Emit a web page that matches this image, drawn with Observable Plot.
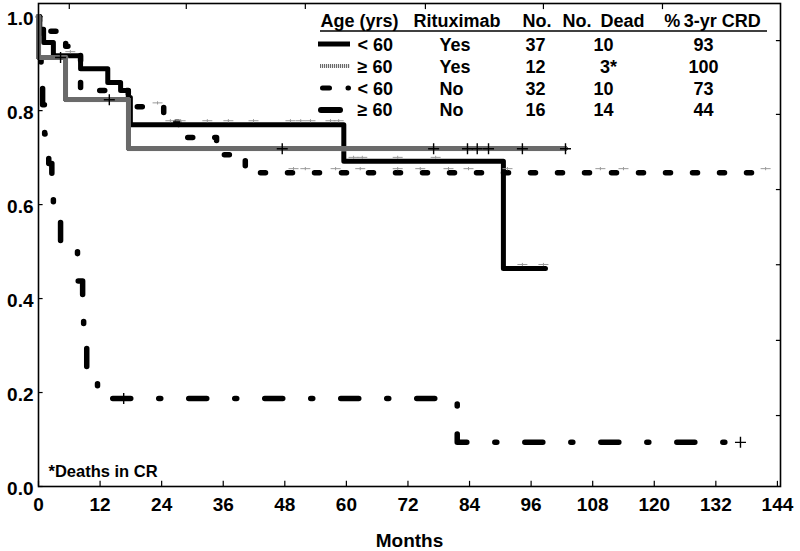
<!DOCTYPE html>
<html><head><meta charset="utf-8">
<script src="https://cdn.jsdelivr.net/npm/d3@7"></script>
<script src="https://cdn.jsdelivr.net/npm/@observablehq/plot@0.6"></script>
<style>
html,body{margin:0;padding:0;background:#fff;}
#chart svg{display:block;}
</style></head><body><div id="chart"></div>
<script>
// ---- Data (months, survival) ----
const months1 = [0, 0.2, 1.0, 2.9, 8.2, 13.5, 16.0, 17.5, 17.9, 59.5, 90.6, 98.8];
const surv1   = [1.0, 0.973, 0.945, 0.917, 0.889, 0.860, 0.843, 0.828, 0.770, 0.692, 0.464, 0.464];
const censor1Months = [6.2, 25.7, 27.7, 32.9, 37.0, 41.9, 49.1, 51.1, 53.0, 56.9, 58.5, 61.4, 63.1, 70.0, 77.4, 94.3, 98.4];
const censor1Surv   = [0.917, 0.770, 0.770, 0.770, 0.770, 0.770, 0.770, 0.770, 0.770, 0.770, 0.770, 0.692, 0.692, 0.692, 0.692, 0.464, 0.464];

const months2 = [0, 0.05, 5.3, 17.5, 102.7];
const surv2   = [1.0, 0.913, 0.823, 0.719, 0.719];
const censor2Months = [4.3, 13.8, 47.5, 77.0, 83.6, 85.5, 87.7, 94.3, 102.7];
const censor2Surv   = [0.913, 0.823, 0.719, 0.719, 0.719, 0.719, 0.719, 0.719, 0.719];

const months3 = [0, 0.2, 5.3, 8.2, 17.5, 24.4, 27.3, 34.7, 40.3, 141.7];
const surv3   = [1.0, 0.969, 0.937, 0.843, 0.808, 0.775, 0.743, 0.706, 0.668, 0.668];
const censor3Months = [23.2, 49.7, 52.0, 57.9, 62.7, 70.0, 74.4, 79.9, 83.8, 91.4, 109.5, 114.0, 141.7];
const censor3Surv   = [0.808, 0.668, 0.668, 0.668, 0.668, 0.668, 0.668, 0.668, 0.668, 0.668, 0.668, 0.668, 0.668];

const months4 = [0, 0.2, 0.5, 0.8, 1.2, 2.0, 2.6, 2.9, 4.3, 7.6, 8.6, 8.8, 9.4, 11.5, 81.6, 136.8];
const surv4   = [1.0, 0.9375, 0.875, 0.8125, 0.75, 0.6875, 0.625, 0.5625, 0.5, 0.4375, 0.375, 0.3125, 0.25, 0.1875, 0.094, 0.094];
const censor4Months = [16.6, 136.8];
const censor4Surv   = [0.1875, 0.094];

// ---- Axis ticks ----
const xTicks = [0, 12, 24, 36, 48, 60, 72, 84, 96, 108, 120, 132, 144];
const yTicks = [0, 0.2, 0.4, 0.6, 0.8, 1.0];
const topTickMonths = [6.0, 28.8, 52.0, 75.4, 98.4, 121.6];
const rightTickValues = [0.949, 0.792, 0.632, 0.472, 0.311, 0.151];

// ---- Legend table ----
const headerLabels = ["Age (yrs)", "Rituximab", "No.", "No.\u2002Dead", "%\u20093-yr CRD"];
const legendAge   = ["< 60", "\u2265 60", "< 60", "\u2265 60"];
const legendRitux = ["Yes", "Yes", "No", "No"];
const legendN     = ["37", "12", "32", "16"];
const legendDead  = ["10", "3*", "10", "14"];
const legendCRD   = ["93", "100", "73", "44"];
const footnote = "*Deaths in CR";
const xLabel = "Months";

const X_MAX = 144.6, Y_MAX = 1.028;
const ML = 38, MT = 3;

const pts = (m, s) => m.map((v, i) => ({m: v, s: s[i]}));
const plusSym  = {draw(ctx){ ctx.moveTo(-5.5,0); ctx.lineTo(5.5,0); ctx.moveTo(0,-5.5); ctx.lineTo(0,5.5); }};
const smallSym = {draw(ctx){ ctx.moveTo(-5,0); ctx.lineTo(5,0); ctx.moveTo(0,-1.6); ctx.lineTo(0,1.6); }};

function txt(text, x, y, opts = {}) {
  return Plot.text([text], {frameAnchor: "top-left", dx: x - ML, dy: y - MT, text: d => d,
    fontSize: 18, fontWeight: "bold", textAnchor: "start", lineAnchor: "middle", fill: "#000", ...opts});
}

const legendMarks = [];
const hdrX = [320, 413, 522, 562, 712];
headerLabels.forEach((h, i) => legendMarks.push(txt(h, hdrX[i], 21, i === 4 ? {textAnchor: "middle"} : {})));
const rowY = [45, 67, 88.5, 110];
rowY.forEach((y, i) => {
  legendMarks.push(txt(legendAge[i], 357, y));
  legendMarks.push(txt(legendRitux[i], 439, y));
  legendMarks.push(txt(legendN[i], 535, y, {textAnchor: "middle"}));
  legendMarks.push(txt(legendDead[i], legendDead[i].includes("*") ? 608 : 603, y, {textAnchor: "middle"}));
  legendMarks.push(txt(legendCRD[i], 703, y, {textAnchor: "middle"}));
});

function legendDecor() {
  const g = d3.create("svg:g");
  g.append("line").attr("x1", 320).attr("x2", 767).attr("y1", 31).attr("y2", 31)
    .attr("stroke", "#000").attr("stroke-width", 1.6);
  g.append("line").attr("x1", 318).attr("x2", 350).attr("y1", 44).attr("y2", 44)
    .attr("stroke", "#000").attr("stroke-width", 5);
  g.append("line").attr("x1", 320).attr("x2", 350).attr("y1", 66).attr("y2", 66)
    .attr("stroke", "#e2e2e2").attr("stroke-width", 3.5);
  g.append("line").attr("x1", 320).attr("x2", 350).attr("y1", 66).attr("y2", 66)
    .attr("stroke", "#6a6a6a").attr("stroke-width", 3.5).attr("stroke-dasharray", "1,1")
    .attr("shape-rendering", "crispEdges");
  g.append("line").attr("x1", 322.5).attr("x2", 348.5).attr("y1", 88).attr("y2", 88)
    .attr("stroke", "#000").attr("stroke-width", 5).attr("stroke-linecap", "round")
    .attr("stroke-dasharray", "7,18.5,0.5,40");
  g.append("line").attr("x1", 321).attr("x2", 340).attr("y1", 110).attr("y2", 110)
    .attr("stroke", "#000").attr("stroke-width", 6).attr("stroke-linecap", "round");
  return g.node();
}

const chart = Plot.plot({
  width: 800, height: 551,
  marginLeft: ML, marginRight: 20, marginTop: MT, marginBottom: 65,
  style: {fontFamily: "'Liberation Sans', Arial, sans-serif", fontWeight: "bold", fontSize: "19px", color: "#000", background: "#fff"},
  x: {domain: [0, X_MAX]},
  y: {domain: [0, Y_MAX]},
  marks: [
    // inward ticks
    Plot.ruleX(xTicks, {x: d => d, y1: 0, y2: 0.011, stroke: "#000", strokeWidth: 1.2}),
    Plot.ruleY(yTicks, {y: d => d, x1: 0, x2: 0.9, stroke: "#000", strokeWidth: 1.2}),
    Plot.ruleX(topTickMonths, {x: d => d, y1: Y_MAX, y2: Y_MAX - 0.013, stroke: "#000", strokeWidth: 1.2}),
    Plot.ruleY(rightTickValues, {y: d => d, x1: X_MAX - 0.8, x2: X_MAX, stroke: "#000", strokeWidth: 1.2}),
    Plot.axisX({ticks: xTicks, tickSize: 0, tickPadding: 11, label: null, fontSize: 19, fontWeight: "bold"}),
    Plot.axisY({ticks: yTicks, tickSize: 0, tickPadding: 5, tickFormat: d3.format(".1f"), label: null, fontSize: 19, fontWeight: "bold", dy: 2}),
    // series 4: >=60, no rituximab (long-short dashes)
    Plot.line(pts(months4, surv4), {x: "m", y: "s", curve: "step-after", stroke: "#000", strokeWidth: 5.5,
      strokeDasharray: "18,28,2,28", strokeLinecap: "round"}),
    // series 3: <60, no rituximab (short dashes)
    Plot.line(pts(months3, surv3), {x: "m", y: "s", curve: "step-after", stroke: "#000", strokeWidth: 5.5,
      strokeDasharray: "5,22", strokeLinecap: "round"}),
    // series 1: <60, rituximab (solid)
    Plot.line(pts(months1, surv1), {x: "m", y: "s", curve: "step-after", stroke: "#000", strokeWidth: 5}),
    // series 2: >=60, rituximab (gray hatched)
    Plot.line(pts(months2, surv2), {x: "m", y: "s", curve: "step-after", stroke: "#e2e2e2", strokeWidth: 5}),
    Plot.line(pts(months2, surv2), {x: "m", y: "s", curve: "step-after", stroke: "#6a6a6a", strokeWidth: 5,
      strokeDasharray: "1,1", shapeRendering: "crispEdges"}),
    // censor marks
    Plot.dot(pts(censor1Months, censor1Surv), {x: "m", y: "s", symbol: smallSym, r: 3, fill: "none", stroke: "#9a9a9a", strokeWidth: 1, dy: -4}),
    Plot.dot(pts(censor3Months, censor3Surv), {x: "m", y: "s", symbol: smallSym, r: 3, fill: "none", stroke: "#9a9a9a", strokeWidth: 1, dy: -4}),
    Plot.dot(pts(censor2Months, censor2Surv), {x: "m", y: "s", symbol: plusSym, r: 4, fill: "none", stroke: "#000", strokeWidth: 1.4}),
    Plot.dot(pts(censor4Months, censor4Surv), {x: "m", y: "s", symbol: plusSym, r: 4, fill: "none", stroke: "#000", strokeWidth: 1.4}),
    Plot.frame({stroke: "#000", strokeWidth: 1.6}),
    // legend
    legendDecor,
    ...legendMarks,
    Plot.text([footnote], {frameAnchor: "bottom-left", dx: 10, dy: -15, text: d => d, fontSize: 16.5, fontWeight: "bold", textAnchor: "start", lineAnchor: "middle"}),
    Plot.text([xLabel], {frameAnchor: "bottom", dy: 54, text: d => d, fontSize: 19, fontWeight: "bold", lineAnchor: "middle"})
  ]
});
document.getElementById("chart").appendChild(chart);
</script>
</body></html>
